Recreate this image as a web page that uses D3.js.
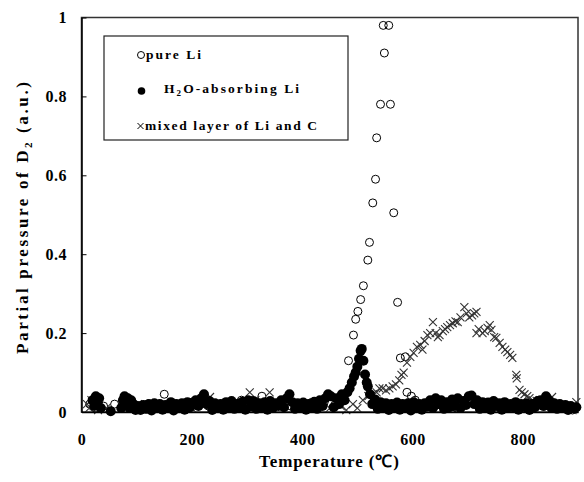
<!DOCTYPE html>
<html>
<head>
<meta charset="utf-8">
<script src="https://cdn.jsdelivr.net/npm/d3@7"></script>
<style>
  body { margin: 0; background: #fff; }
  svg { display: block; }
  text { font-family: "Liberation Serif", "Times New Roman", serif; font-weight: bold; fill: #000; }
</style>
</head>
<body>
<svg id="chart" width="584" height="482"></svg>
<script>
// Thermal desorption of D2: temperature (°C) vs partial pressure (a.u.)
const xTicks = [0, 200, 400, 600, 800];
const yTicks = [0, 0.2, 0.4, 0.6, 0.8, 1];

// pure Li (open circles)
const pureTemp = [15, 25, 40, 60, 90, 120, 150, 170, 200, 230, 260, 290, 327, 350, 380, 410, 440, 460, 475,
  484, 493, 497, 501, 506, 511, 519, 522, 528, 533, 535, 542, 549, 547, 557, 560, 566, 573, 578, 587,
  590, 598, 605, 615, 640, 680, 720, 760, 800, 840, 870, 890];
const pureVal = [0.02, 0.01, 0.015, 0.02, 0.01, 0.02, 0.045, 0.02, 0.025, 0.015, 0.02, 0.03, 0.04, 0.02, 0.015, 0.02, 0.025, 0.02, 0.03,
  0.13, 0.195, 0.235, 0.255, 0.285, 0.32, 0.385, 0.43, 0.53, 0.59, 0.695, 0.78, 0.91, 0.98, 0.98, 0.78, 0.505, 0.278, 0.137, 0.14,
  0.05, 0.04, 0.03, 0.02, 0.015, 0.01, 0.015, 0.02, 0.01, 0.015, 0.01, 0.005];

// H2O-absorbing Li (filled circles)
const h2oTemp = [20, 23, 26, 29, 32, 35, 53, 72, 75, 78, 81, 84, 87, 90, 94, 98, 102,
  107, 112, 117, 122, 127, 132, 137, 142, 147, 152, 157, 162, 167, 172, 177, 182, 187, 192, 197, 202,
  207, 212, 217, 222, 227, 232, 237, 242, 247, 252, 257, 262, 267, 272, 277, 282, 287, 292, 297, 302,
  307, 312, 317, 322, 327, 332, 337, 342, 347, 352, 357, 362, 367, 372, 377, 382, 387, 392, 397, 402,
  407, 412, 417, 422, 427, 432, 437, 442, 447, 452, 457, 462, 467, 472, 477, 482, 486, 490, 494, 497,
  500, 503, 506, 508, 511, 514, 517, 519, 523, 527, 532, 537, 542, 547, 552, 557, 562, 567, 572, 577,
  582, 587, 592, 597, 602, 607, 612, 617, 622, 627, 632, 637, 642, 647, 652, 657, 662, 667, 672, 677,
  682, 687, 692, 697, 702, 707, 712, 717, 722, 727, 732, 737, 742, 747, 752, 757, 762, 767, 772, 777,
  782, 787, 792, 797, 802, 807, 812, 817, 822, 827, 832, 837, 842, 847, 852, 857, 862, 867, 872, 877,
  882, 887, 892, 897];
const h2oVal = [0.03, 0.015, 0.04, 0.025, 0.035, 0.01, 0.002, 0.01, 0.03, 0.04, 0.02, 0.035, 0.01, 0.03, 0.02, 0.005, 0.015,
  0.005, 0.018, 0.008, 0.02, 0.004, 0.022, 0.01, 0.02, 0.006, 0.018, 0.012, 0.025, 0.004, 0.02, 0.01, 0.022, 0.006, 0.025, 0.012, 0.02,
  0.03, 0.015, 0.035, 0.045, 0.02, 0.028, 0.005, 0.022, 0.012, 0.02, 0.006, 0.025, 0.01, 0.028, 0.008, 0.02, 0.012, 0.026, 0.006, 0.03,
  0.014, 0.028, 0.008, 0.022, 0.012, 0.025, 0.006, 0.028, 0.01, 0.022, 0.015, 0.03, 0.012, 0.035, 0.045, 0.025, 0.008, 0.022, 0.01, 0.024,
  0.006, 0.02, 0.012, 0.026, 0.008, 0.03, 0.015, 0.035, 0.045, 0.04, 0.012, 0.035, 0.02, 0.045, 0.03, 0.05, 0.06, 0.075, 0.09, 0.1,
  0.115, 0.135, 0.155, 0.16, 0.13, 0.095, 0.075, 0.065, 0.045, 0.02, 0.032, 0.008, 0.025, 0.012, 0.022, 0.005, 0.02, 0.01, 0.024, 0.006,
  0.02, 0.012, 0.022, 0.004, 0.025, 0.012, 0.02, 0.006, 0.022, 0.014, 0.03, 0.01, 0.035, 0.02, 0.03, 0.008, 0.025, 0.012, 0.032, 0.015,
  0.035, 0.01, 0.028, 0.018, 0.04, 0.042, 0.02, 0.03, 0.008, 0.025, 0.012, 0.024, 0.006, 0.028, 0.015, 0.022, 0.006, 0.025, 0.01, 0.02,
  0.012, 0.025, 0.006, 0.02, 0.014, 0.022, 0.005, 0.02, 0.012, 0.028, 0.03, 0.015, 0.04, 0.03, 0.01, 0.022, 0.008, 0.02, 0.012, 0.018,
  0.005, 0.015, 0.01, 0.012];

// mixed layer of Li and C (crosses)
const mixTemp = [10, 14, 18, 22, 30, 45, 75, 80, 85, 115, 119, 130, 150, 178, 200, 233, 250, 270, 290, 305, 315, 341, 350, 370,
  395, 408, 430, 450, 470, 480, 492, 500, 510, 520, 528, 535, 540, 546, 552, 558, 564, 570, 576, 580, 584, 590, 596, 602,
  608, 614, 618, 622, 627, 632, 637, 642, 646, 649, 655, 659, 663, 668, 673, 678, 682, 687, 694, 698, 703, 708, 712, 716,
  716, 720, 727, 731, 736, 740, 743, 748, 752, 758, 763, 768, 772, 777, 781, 788, 789, 794, 798, 803, 808, 812, 818, 825,
  835, 845, 853, 860, 870, 880, 890, 897];
const mixVal = [0.02, 0.01, 0.03, 0.015, 0.005, 0.01, 0.02, 0.03, 0.015, 0.02, 0.012, 0.02, 0.015, 0.018, 0.01, 0.038, 0.02, 0.015, 0.025, 0.05, 0.03, 0.05, 0.02, 0.015,
  0.01, 0.025, 0.02, 0.01, 0.015, 0.005, 0.02, 0.01, 0.03, 0.04, 0.045, 0.05, 0.06, 0.06, 0.055, 0.06, 0.065, 0.07, 0.08, 0.094, 0.1, 0.125, 0.14, 0.15,
  0.165, 0.17, 0.158, 0.18, 0.195, 0.2, 0.228, 0.2, 0.19, 0.195, 0.205, 0.21, 0.215, 0.22, 0.225, 0.23, 0.228, 0.24, 0.266, 0.25, 0.24, 0.245, 0.25, 0.254,
  0.2, 0.21, 0.2, 0.205, 0.213, 0.22, 0.208, 0.19, 0.188, 0.175, 0.165, 0.158, 0.152, 0.145, 0.137, 0.094, 0.085, 0.056, 0.05, 0.045, 0.04, 0.035, 0.03, 0.028,
  0.02, 0.015, 0.038, 0.02, 0.01, 0.015, 0.005, 0.025];

const svg = d3.select("#chart");
const plotLeft = 81.5, plotRight = 578, plotTop = 17.5, plotBottom = 412;

const x = d3.scaleLinear().domain([0, 900]).range([plotLeft, plotRight]);
const y = d3.scaleLinear().domain([0, 1]).range([plotBottom, plotTop]);

// plot frame
svg.append("rect")
  .attr("x", plotLeft).attr("y", plotTop)
  .attr("width", plotRight - plotLeft).attr("height", plotBottom - plotTop)
  .attr("fill", "none").attr("stroke", "#333").attr("stroke-width", 1.5);

const zip = (ts, vs) => ts.map((t, i) => ({ t, v: vs[i] }));

// pure Li
svg.append("g").selectAll("circle")
  .data(zip(pureTemp, pureVal)).join("circle")
  .attr("cx", d => x(d.t)).attr("cy", d => y(d.v)).attr("r", 4)
  .attr("fill", "none").attr("stroke", "#000").attr("stroke-width", 1);

// mixed layer
const crossPath = "M-4,-4L4,4M-4,4L4,-4";
svg.append("g").selectAll("path")
  .data(zip(mixTemp, mixVal)).join("path")
  .attr("transform", d => `translate(${x(d.t)},${y(d.v)})`)
  .attr("d", crossPath)
  .attr("fill", "none").attr("stroke", "#333").attr("stroke-width", 1.1);

// H2O-absorbing Li
svg.append("g").selectAll("circle")
  .data(zip(h2oTemp, h2oVal)).join("circle")
  .attr("cx", d => x(d.t)).attr("cy", d => y(d.v)).attr("r", 5)
  .attr("fill", "#000");

// axes
const yAxis = d3.axisLeft(y).tickValues(yTicks)
  .tickSizeInner(-5).tickSizeOuter(0).tickPadding(14.5)
  .tickFormat(d => (d === 0 || d === 1) ? String(d) : d3.format(".1f")(d));
const gy = svg.append("g").attr("transform", `translate(${plotLeft},0)`).call(yAxis);
gy.select(".domain").attr("stroke", "#000").attr("stroke-width", 1.5);
gy.selectAll(".tick line").attr("stroke", "#000");
gy.selectAll("text").style("font-size", "16px").style("font-family", "Liberation Serif, serif").style("font-weight", "bold").attr("letter-spacing", 0.5);

const xAxis = d3.axisBottom(x).tickValues(xTicks).tickSize(0).tickPadding(21.5);
const gx = svg.append("g").attr("transform", `translate(0,${plotBottom})`).call(xAxis);
gx.select(".domain").attr("stroke", "#000").attr("stroke-width", 1.5);
gx.selectAll("text").style("font-size", "16px").style("font-family", "Liberation Serif, serif").style("font-weight", "bold").attr("letter-spacing", 0.5);

// axis titles
svg.append("text")
  .attr("x", 329).attr("y", 467)
  .attr("text-anchor", "middle")
  .style("font-size", "17px")
  .attr("textLength", 140).attr("lengthAdjust", "spacing")
  .text("Temperature (℃)");

const yt = svg.append("text")
  .attr("transform", "translate(28,218) rotate(-90)")
  .attr("text-anchor", "middle")
  .style("font-size", "17px")
  .attr("textLength", 272).attr("lengthAdjust", "spacing");
yt.append("tspan").text("Partial pressure of D");
yt.append("tspan").attr("dy", 4).style("font-size", "11px").text("2");
yt.append("tspan").attr("dy", -4).text(" (a.u.)");

// legend
const lg = svg.append("g");
lg.append("rect")
  .attr("x", 104).attr("y", 36).attr("width", 244).attr("height", 104)
  .attr("fill", "#fff").attr("stroke", "#222").attr("stroke-width", 1.2);

lg.append("circle").attr("cx", 141).attr("cy", 55).attr("r", 3.5)
  .attr("fill", "none").attr("stroke", "#000");
lg.append("text").attr("x", 146).attr("y", 59).style("font-size", "13.5px")
  .attr("textLength", 55).attr("lengthAdjust", "spacing").text("pure Li");

lg.append("circle").attr("cx", 141.5).attr("cy", 91).attr("r", 3.8).attr("fill", "#000");
const h2oLabel = lg.append("text").attr("x", 164).attr("y", 93).style("font-size", "13.5px")
  .attr("textLength", 135).attr("lengthAdjust", "spacing");
h2oLabel.append("tspan").text("H");
h2oLabel.append("tspan").attr("dy", 3).style("font-size", "9px").text("2");
h2oLabel.append("tspan").attr("dy", -3).text("O-absorbing Li");

lg.append("path").attr("transform", "translate(140.5,126)")
  .attr("d", "M-3,-3L3,3M-3,3L3,-3").attr("stroke", "#000").attr("stroke-width", 1);
lg.append("text").attr("x", 145).attr("y", 130).style("font-size", "13.5px")
  .attr("textLength", 172).attr("lengthAdjust", "spacing").text("mixed layer of Li and C");
</script>
</body>
</html>
